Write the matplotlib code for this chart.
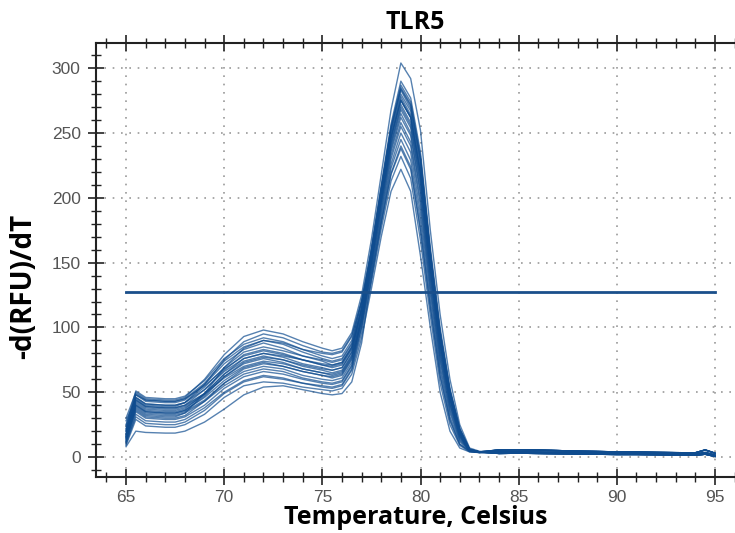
import matplotlib.pyplot as plt
import numpy as np
from matplotlib.ticker import MultipleLocator

# Melt curve data, -d(RFU)/dT
temps = [65, 65.5, 66, 67, 67.5, 68, 69, 70, 71, 72, 73, 74, 75, 75.5, 76,
         76.5, 77, 77.5, 78, 78.5, 79, 79.5, 80, 80.5, 81, 81.5, 82, 82.5, 83]

curves = [
    [25, 51, 46, 45, 45, 47, 59, 76, 87, 92, 89, 83, 78, 76, 78, 90, 119, 159, 207, 254, 285, 272, 230, 158, 96, 51, 21, 6, 4],
    [30, 50, 45, 44, 44, 46, 60, 79, 93, 98, 95, 89, 84, 82, 84, 96, 125, 168, 218, 268, 304, 292, 252, 175, 110, 60, 25, 7, 4.5],
    [22, 48, 43, 42, 42, 44, 56, 72, 83, 88, 84, 78, 74, 71, 73, 85, 114, 155, 201, 246, 275, 262, 218, 149, 89, 46, 19, 5, 4],
    [20, 46, 41, 40, 40, 42, 54, 69, 81, 85, 82, 78, 75, 73, 75, 87, 116, 157, 204, 250, 280, 267, 224, 153, 93, 48, 20, 6, 4],
    [18, 46, 41, 40, 40, 42, 52, 66, 76, 80, 77, 72, 69, 67, 69, 81, 110, 152, 198, 242, 270, 256, 212, 144, 85, 44, 18, 5, 4],
    [20, 44, 39, 38, 38, 40, 52, 67, 79, 83, 80, 75, 71, 69, 71, 83, 112, 160, 208, 255, 287, 274, 232, 159, 97, 52, 22, 6, 4],
    [16, 43, 38, 37, 37, 39, 49, 64, 74, 78, 75, 70, 67, 65, 67, 79, 108, 149, 194, 236, 262, 248, 203, 137, 79, 40, 16, 5, 4],
    [18, 42, 37, 36, 36, 38, 48, 62, 72, 76, 73, 68, 65, 63, 65, 77, 106, 145, 189, 230, 255, 240, 194, 130, 74, 36, 14, 5, 4],
    [15, 41, 36, 35, 35, 37, 49, 64, 76, 80, 78, 75, 72, 71, 73, 85, 114, 156, 203, 248, 278, 264, 221, 151, 91, 47, 19, 5, 4],
    [14, 40, 35, 34, 34, 36, 46, 59, 69, 73, 70, 66, 63, 61, 63, 75, 104, 143, 186, 226, 250, 235, 188, 126, 70, 34, 13, 5, 3.5],
    [15, 39, 34, 33, 33, 35, 44, 57, 66, 70, 68, 63, 60, 59, 61, 73, 102, 141, 183, 223, 245, 229, 182, 121, 67, 31, 12, 4.5, 3.5],
    [12, 38, 33, 32, 32, 34, 43, 55, 64, 68, 66, 61, 58, 57, 59, 71, 100, 138, 180, 218, 238, 222, 174, 115, 62, 28, 10, 4.5, 3.5],
    [13, 36, 31, 30, 30, 32, 43, 57, 68, 72, 70, 66, 63, 62, 64, 76, 105, 151, 197, 240, 268, 254, 209, 142, 83, 42, 17, 5, 4],
    [12, 35, 30, 29, 29, 31, 40, 53, 62, 66, 64, 60, 57, 56, 58, 70, 108, 152, 201, 246, 275, 262, 218, 149, 89, 46, 19, 5, 4],
    [10, 33, 28, 27, 27, 29, 38, 50, 59, 63, 61, 57, 54, 53, 55, 67, 96, 135, 176, 213, 232, 215, 167, 109, 57, 25, 9, 4, 3.5],
    [11, 31, 26, 25, 25, 27, 36, 49, 58, 62, 60, 57, 55, 54, 56, 68, 100, 147, 191, 233, 258, 243, 198, 133, 76, 38, 15, 5, 4],
    [9, 29, 24, 23, 23, 25, 33, 46, 55, 58, 57, 54, 52, 51, 53, 64, 92, 130, 170, 205, 222, 205, 155, 100, 50, 20, 7, 4, 3.5],
    [8, 20, 19, 18.5, 18.5, 20, 27, 37, 48, 54, 55, 52, 49, 48, 49, 58, 88, 138, 181, 219, 240, 224, 176, 116, 63, 29, 10, 4.5, 3.5],
    [17, 37, 32, 31, 31, 34, 49, 69, 84, 90, 88, 83, 80, 79, 81, 93, 121, 158, 206, 252, 283, 269, 227, 156, 94, 50, 21, 6, 4],
    [28, 45, 40, 39, 39, 42, 56, 75, 89, 95, 92, 86, 81, 80, 82, 94, 120, 153, 199, 243, 272, 258, 214, 146, 87, 45, 18, 5, 4],
    [21, 49, 44, 43, 43, 45, 57, 74, 85, 90, 87, 81, 76, 74, 76, 88, 120, 162, 210, 257, 290, 277, 235, 162, 100, 53, 22, 6, 4],
    [16, 44, 39, 38, 38, 40, 49, 61, 70, 74, 72, 68, 65, 64, 66, 78, 108, 150, 195, 238, 265, 250, 205, 139, 81, 41, 16, 5, 4],
    [14, 40, 35, 34, 34, 36, 47, 62, 73, 77, 75, 71, 68, 67, 69, 81, 114, 159, 206, 253, 284, 271, 229, 157, 96, 51, 21, 6, 4],
    [24, 48, 44, 43, 43, 45, 55, 68, 78, 82, 79, 75, 71, 70, 72, 84, 115, 155, 202, 247, 276, 262, 219, 150, 90, 46, 19, 5, 4],
]

# flat tail after the melt, three variants
tail_temps = [84, 85, 86, 87, 88, 89, 90, 91, 92, 93, 94, 94.5, 95]
tails = [
    [4.0, 4.0, 3.8, 3.6, 3.3, 3.0, 2.8, 2.8, 2.5, 2.3, 2.2, 3.5, 1.5],
    [2.8, 3.0, 2.8, 2.6, 2.4, 2.2, 2.0, 2.0, 1.8, 1.6, 1.4, 2.2, 0.5],
    [5.5, 5.6, 5.4, 5.0, 4.6, 4.3, 4.0, 3.9, 3.6, 3.4, 3.3, 5.5, 3.0],
]

threshold = 127

# Set up the figure
fig = plt.figure(figsize=(7.35, 5.33), dpi=100)
ax = fig.add_axes([0.1306, 0.105, 0.8694, 0.814])

line_color = '#0f4c8f'
for i, c in enumerate(curves):
    x = temps + tail_temps
    y = c + tails[i % 3]
    ax.plot(x, y, color=line_color, lw=1.0, alpha=0.7)

# threshold line
ax.plot([65, 95], [threshold, threshold], color='#1a4f8b', lw=2)

ax.set_xlim(63.47, 96.02)
ax.set_ylim(-15.4, 319.3)

ax.xaxis.set_major_locator(MultipleLocator(5))
ax.xaxis.set_minor_locator(MultipleLocator(1))
ax.yaxis.set_major_locator(MultipleLocator(50))
ax.yaxis.set_minor_locator(MultipleLocator(10))

ax.grid(True, which='major', color='#999999', linestyle=(0, (1, 4)), lw=1.2)
ax.set_axisbelow(True)

ax.tick_params(axis='both', which='major', direction='inout', length=12, width=1.2,
               labelsize=12.5, labelcolor='#555555', color='#222222')
ax.tick_params(axis='both', which='minor', direction='inout', length=7, width=1.0,
               color='#222222')
ax.tick_params(axis='x', which='both', top=True)
ax.tick_params(axis='y', which='major', pad=5)
ax.spines['right'].set_visible(False)
for s in ['left', 'bottom', 'top']:
    ax.spines[s].set_linewidth(1.5)
    ax.spines[s].set_color('#222222')

for lab in ax.get_xticklabels() + ax.get_yticklabels():
    lab.set_family('Liberation Sans')

ax.set_title('TLR5', fontsize=18, fontweight='bold', family='Open Sans', pad=10)
ax.set_xlabel('Temperature, Celsius', fontsize=18, fontweight='bold', family='Open Sans', labelpad=0)
ax.set_ylabel('-d(RFU)/dT', fontsize=20, fontweight='bold', family='Open Sans')
ax.yaxis.set_label_coords(-0.09, 0.44)

plt.savefig('out.png', dpi=100)
